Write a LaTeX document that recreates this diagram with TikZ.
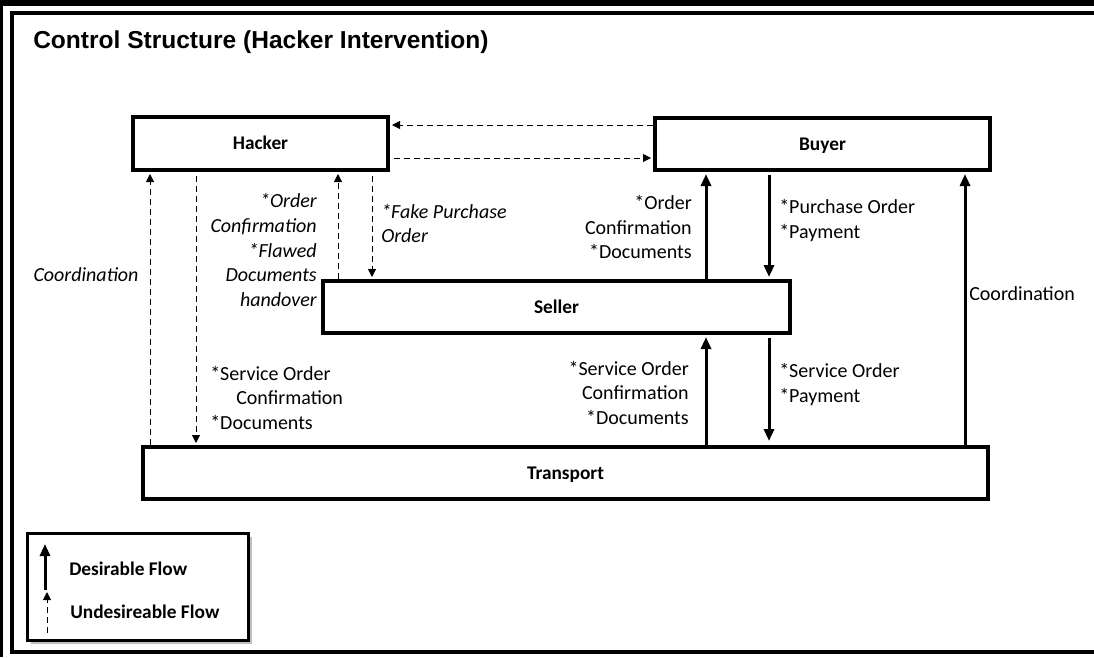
\documentclass[tikz,border=0pt]{standalone}
\usepackage{fontspec}
\setmainfont{Carlito}
\newfontfamily\titlefont{Liberation Sans}
\usetikzlibrary{arrows.meta,shadows,fit}

\begin{document}
\begin{tikzpicture}[x=0.75pt,y=-0.75pt,
  box/.style={draw, line width=3pt, inner sep=0pt},
  boxlab/.style={inner sep=0pt, text height=9.3pt, text depth=0pt,
    font=\bfseries\fontsize{14.5}{18}\selectfont},
  lab/.style={inner sep=0pt, font=\fontsize{15}{18.4}\selectfont},
  ilab/.style={lab, font=\itshape\fontsize{15}{18.4}\selectfont},
  leglab/.style={inner sep=0pt, anchor=west, font=\bfseries\fontsize{14.5}{18}\selectfont},
  sflow/.style={line width=2.25pt, -{Triangle[length=9pt,width=7.5pt]}, shorten >=1.5pt},
  dflow/.style={line width=0.75pt, dash pattern=on 4.5pt off 3pt,
    -{Triangle[length=6pt,width=6pt]}, shorten >=1.5pt},
]
\useasboundingbox (0,0) rectangle (1094,657);

% outer frame
\fill[black] (0,0) rectangle (1094,6);
\fill[black] (0,0) rectangle (3,657);
\draw[line width=3pt] (1094,13) -- (12,13) -- (12,652) -- (1094,652);

% title
\node[anchor=west, inner sep=0pt, font=\titlefont\bfseries\fontsize{18.4}{22}\selectfont]
  (title) at (33,42) {Control Structure (Hacker Intervention)};

% actors
\node[box, fit={(133,117) (388,170)}] (hacker) {};
\node[box, fit={(655,118) (990,170)}] (buyer) {};
\node[box, fit={(323,281) (790,333)}] (seller) {};
\node[box, fit={(143,447) (988,499)}] (transport) {};
\node[boxlab] (hackerT) at (hacker.center) {Hacker};
\node[boxlab] (buyerT) at (buyer.center) {Buyer};
\node[boxlab] (sellerT) at (seller.center) {Seller};
\node[boxlab] (transportT) at (transport.center) {Transport};

% vertical tracks
\coordinate (x150) at (150,0);
\coordinate (x196) at (196,0);
\coordinate (x338) at (338,0);
\coordinate (x372) at (372,0);
\coordinate (x706) at (706,0);
\coordinate (x769) at (769,0);
\coordinate (x965) at (965,0);
\coordinate (y125) at (0,125);
\coordinate (y158) at (0,158);

% hacker <-> buyer
\draw[dflow] (buyer.west |- y125) -- (hacker.east |- y125);
\draw[dflow, shorten <=3pt] (hacker.east |- y158) -- (buyer.west |- y158);

% hacker <-> transport
\draw[dflow] (x150 |- transport.north) -- (x150 |- hacker.south);
\draw[dflow, shorten <=3pt] (x196 |- hacker.south) -- (x196 |- transport.north);

% hacker <-> seller
\draw[dflow] (x338 |- seller.north) -- (x338 |- hacker.south);
\draw[dflow, shorten <=3pt] (x372 |- hacker.south) -- (x372 |- seller.north);

% buyer <-> seller
\draw[sflow] (x706 |- seller.north) -- (x706 |- buyer.south);
\draw[sflow, shorten <=2pt] (x769 |- buyer.south) -- (x769 |- seller.north);

% seller <-> transport
\draw[sflow] (x706 |- transport.north) -- (x706 |- seller.south);
\draw[sflow, shorten <=2pt, shorten >=3pt] (x769 |- seller.south) -- (x769 |- transport.north);

% transport -> buyer
\draw[sflow] (x965 |- transport.north) -- (x965 |- buyer.south);

% flow labels
\node[ilab] (coordL) at (86,275) {Coordination};
\node[lab, anchor=west, align=left] (svcL) at (210,397.5)
  {*Service Order\\\hspace*{19.5pt}Confirmation\\*Documents};
\node[ilab, anchor=east, align=right] (flawed) at (317,250)
  {*Order\\Confirmation\\*Flawed\\Documents\\handover};
\node[ilab, anchor=west, align=left] (fake) at (381,223.5)
  {*Fake Purchase\\Order};
\node[lab, anchor=east, align=right] (ordconf) at (692,227)
  {*Order\\Confirmation\\*Documents};
\node[lab, anchor=west, align=left] (purch) at (779,220.5)
  {*Purchase Order\\*Payment};
\node[lab, anchor=east, align=right] (svcconf) at (689,392.5)
  {*Service Order\\Confirmation\\*Documents};
\node[lab, anchor=west, align=left] (svcpay) at (779,384.5)
  {*Service Order\\*Payment};
\node[lab, anchor=west] (coordR) at (969,294) {Coordination};

% legend
\node[draw, line width=2.25pt, fill=white, inner sep=0pt,
  drop shadow={shadow xshift=3pt, shadow yshift=-3pt, opacity=0.5},
  fit={(27,533) (248,640)}] (legend) {};
\coordinate (ls1) at (45,590);
\coordinate (le1) at (45,544);
\coordinate (ls2) at (47,633);
\coordinate (le2) at (47,592);
\draw[sflow, shorten >=0pt] (ls1) -- (le1);
\draw[dflow, shorten >=0pt] (ls2) -- (le2);
\node[leglab] (desL) at (69,569) {Desirable Flow};
\node[leglab] (undL) at (70,612) {Undesireable Flow};
\end{tikzpicture}
\end{document}
